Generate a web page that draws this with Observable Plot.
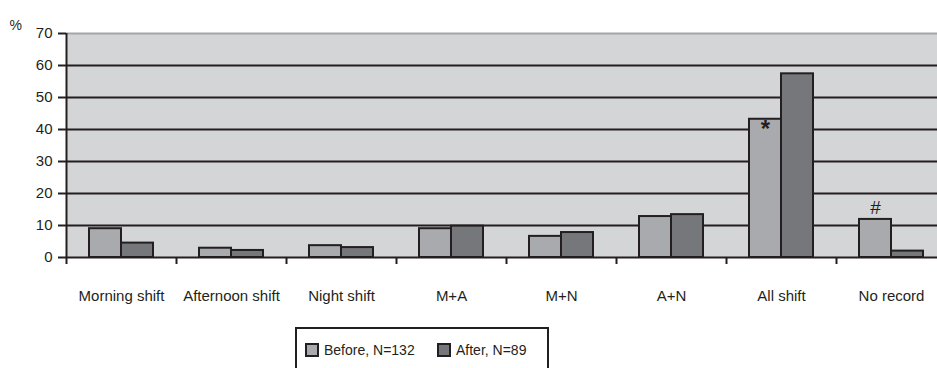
<!DOCTYPE html>
<html>
<head>
<meta charset="utf-8">
<script src="https://cdn.jsdelivr.net/npm/d3@7"></script>
<script src="https://cdn.jsdelivr.net/npm/@observablehq/plot@0.6"></script>
<style>
  body { margin: 0; background: #fff; font-family: "Liberation Sans", Arial, sans-serif; }
  #legend {
    position: absolute; left: 295px; top: 327px; width: 254px; height: 60px;
    border: 2px solid #231f20; box-sizing: border-box; background: #fff;
    font-size: 14px; color: #231f20;
  }
  .item { position: absolute; top: 13px; display: flex; align-items: center; }
  .sw { width: 10px; height: 10px; border: 2px solid #231f20; margin-right: 5px; }
</style>
</head>
<body>
<div id="chart"></div>
<div id="legend"></div>
<script>
const categories = ["Morning shift", "Afternoon shift", "Night shift", "M+A", "M+N", "A+N", "All shift", "No record"];
const before = [9.0, 2.9, 3.7, 9.0, 6.6, 12.8, 43.2, 11.9];
const after = [4.5, 2.2, 3.1, 9.8, 7.8, 13.4, 57.4, 2.0];
const seriesNames = ["Before, N=132", "After, N=89"];
const seriesColors = ["#a9aaad", "#76777b"];
const yTicks = [0, 10, 20, 30, 40, 50, 60, 70];
const notes = [
  {category: "All shift", value: 43.2, label: "*"},
  {category: "No record", value: 11.9, label: "#"}
];

const dataBefore = categories.map((c, i) => ({category: c, value: before[i]}));
const dataAfter = categories.map((c, i) => ({category: c, value: after[i]}));

const stroke = "#231f20";
const band = 110;
const half = 16;
const inset = (band - 2 * half) / 2;

const chart = Plot.plot({
  width: 937,
  height: 320,
  marginTop: 33,
  marginBottom: 63,
  marginLeft: 66,
  marginRight: 0,
  style: {fontFamily: "'Liberation Sans', Arial, sans-serif", fontSize: "15px", color: stroke, background: "#fff"},
  x: {domain: categories, range: [66, 66 + band * categories.length], padding: 0},
  y: {domain: [0, 70]},
  marks: [
    Plot.frame({fill: "#d4d5d7", stroke: null}),
    Plot.ruleY(yTicks.filter(d => d > 0 && d < 70), {stroke: stroke, strokeWidth: 2}),
    Plot.ruleY([70], {stroke: "#a4a5a8", strokeWidth: 2}),
    Plot.barY(dataBefore, {x: "category", y: "value", fill: seriesColors[0], stroke: stroke, strokeWidth: 2, insetLeft: inset, insetRight: inset, dx: -half}),
    Plot.barY(dataAfter, {x: "category", y: "value", fill: seriesColors[1], stroke: stroke, strokeWidth: 2, insetLeft: inset, insetRight: inset, dx: half}),
    Plot.ruleY([0], {stroke: stroke, strokeWidth: 2}),
    Plot.ruleX([categories[0]], {x: d => d, y1: 0, y2: 70, dx: -band / 2, stroke: stroke, strokeWidth: 2}),
    Plot.axisY({ticks: yTicks, tickSize: 8, tickPadding: 6, strokeWidth: 2, label: null, fontSize: 15}),
    Plot.axisX({tickSize: 7, tickFormat: null, dx: -band / 2, strokeWidth: 2, label: null}),
    Plot.axisX({tickSize: 0, tickPadding: 33, label: null, fontSize: 15}),
    Plot.text(notes, {x: "category", y: "value", text: "label", dx: -half, dy: 10, fontSize: 24, fontWeight: "bold", fill: stroke, filter: d => d.label === "*"}),
    Plot.text(notes, {x: "category", y: "value", text: "label", dx: -half, dy: -12, fontSize: 19, fill: stroke, filter: d => d.label === "#"}),
    Plot.text(["%"], {frameAnchor: "top-left", text: d => d, dx: -57, dy: -13, textAnchor: "start", fontSize: 14, fill: stroke})
  ]
});
document.getElementById("chart").appendChild(chart);

const legend = document.getElementById("legend");
const lefts = [8, 140];
seriesNames.forEach((name, i) => {
  const item = document.createElement("div");
  item.className = "item";
  item.style.left = lefts[i] + "px";
  const sw = document.createElement("div");
  sw.className = "sw";
  sw.style.background = seriesColors[i];
  item.appendChild(sw);
  const t = document.createElement("span");
  t.textContent = name;
  item.appendChild(t);
  legend.appendChild(item);
});
</script>
</body>
</html>
